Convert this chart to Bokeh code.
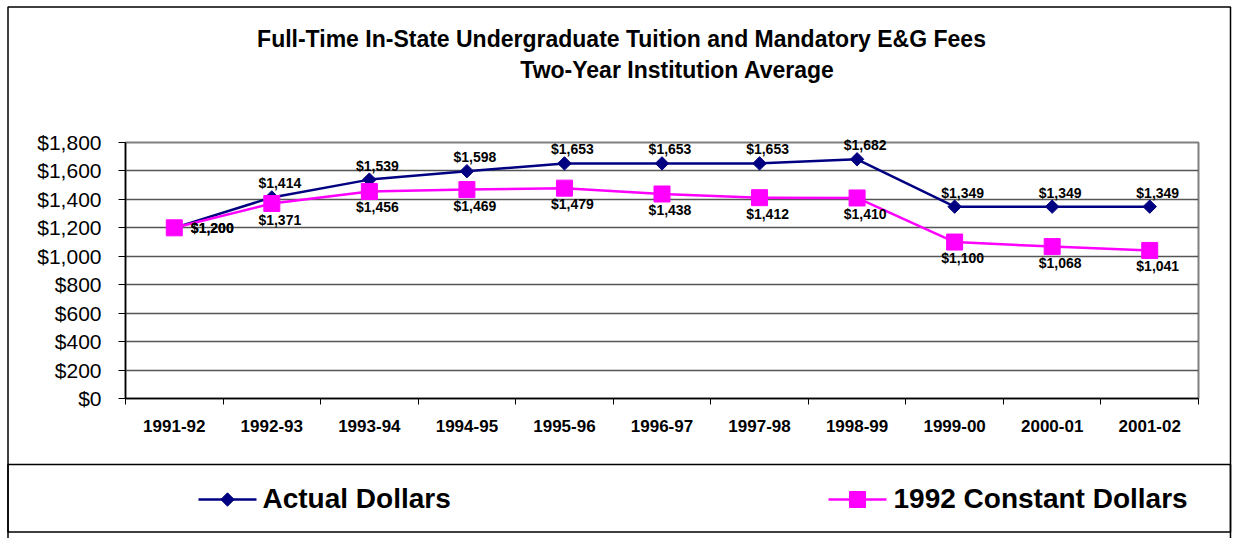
import math
from bokeh.plotting import figure
from bokeh.models import (FixedTicker, NumeralTickFormatter, CustomJSTickFormatter,
                          Range1d, ColumnDataSource)
from bokeh.core.properties import value
from bokeh.embed import file_html
from bokeh.resources import INLINE

# ---- data ----
years = ["1991-92", "1992-93", "1993-94", "1994-95", "1995-96", "1996-97",
         "1997-98", "1998-99", "1999-00", "2000-01", "2001-02"]
actual = [1200, 1414, 1539, 1598, 1653, 1653, 1653, 1682, 1349, 1349, 1349]
constant = [1200, 1371, 1456, 1469, 1479, 1438, 1412, 1410, 1100, 1068, 1041]
y_ticks = [0, 200, 400, 600, 800, 1000, 1200, 1400, 1600, 1800]
title_1 = "Full-Time In-State Undergraduate Tuition and Mandatory E&G Fees"
title_2 = "Two-Year Institution Average"
series_names = ["Actual Dollars", "1992 Constant Dollars"]

FONT = "Liberation Sans"
NAVY = "#000080"
MAGENTA = "#FF00FF"

W, H = 1233, 538
FL, FR, FT, FB = 125, 1198, 142, 398   # plot-area frame in pixels

n = len(years)
xs = [i + 0.5 for i in range(n)]
ymax = y_ticks[-1]

p = figure(width=W, height=H, output_backend="svg", toolbar_location=None,
           x_range=Range1d(0, n), y_range=Range1d(y_ticks[0], ymax),
           min_border_left=FL, min_border_right=W - FR, min_border_top=FT, min_border_bottom=H - FB,
           background_fill_color="white", border_fill_color="white")

p.outline_line_color = "#808080"
p.outline_line_width = 2


def px2x(px):
    return (px - FL) / (FR - FL) * n


def py2y(py):
    return (FB - py) / (FB - FT) * ymax


# x axis
xa = p.xaxis[0]
xa.ticker = FixedTicker(ticks=xs, minor_ticks=list(range(n + 1)))
xa.formatter = CustomJSTickFormatter(args=dict(labels=years),
                                     code="return labels[Math.round(tick - 0.5)]")
xa.major_tick_in = 0
xa.major_tick_out = 0
xa.major_tick_line_color = None
xa.minor_tick_in = 0
xa.minor_tick_out = 6
xa.minor_tick_line_color = "black"
xa.minor_tick_line_width = 1
xa.axis_line_color = "black"
xa.axis_line_width = 1.5
xa.major_label_text_font = FONT
xa.major_label_text_font_style = "bold"
xa.major_label_text_font_size = "17px"
xa.major_label_text_color = "black"
xa.major_label_standoff = 15

# y axis
ya = p.yaxis[0]
ya.ticker = FixedTicker(ticks=y_ticks, minor_ticks=[])
ya.formatter = NumeralTickFormatter(format="$0,0")
ya.major_tick_in = 0
ya.major_tick_out = 7
ya.major_tick_line_color = "black"
ya.minor_tick_line_color = None
ya.axis_line_color = "black"
ya.axis_line_width = 1.5
ya.major_label_text_font = FONT
ya.major_label_text_font_size = "21px"
ya.major_label_text_color = "black"
ya.major_label_standoff = 17

p.xgrid.grid_line_color = None
p.ygrid.ticker = FixedTicker(ticks=y_ticks, minor_ticks=[])
p.ygrid.grid_line_color = "#555555"
p.ygrid.grid_line_width = 1.5

# series
p.line(xs, actual, line_color=NAVY, line_width=2.5)
p.scatter(xs, actual, marker="square", angle=math.pi / 4, size=9.5,
          fill_color=NAVY, line_color=NAVY)
p.line(xs, constant, line_color=MAGENTA, line_width=2.5)
p.scatter(xs, constant, marker="square", size=16, fill_color=MAGENTA, line_color=MAGENTA)


# data labels
def fmt(v):
    return "${:,}".format(v)


a_dx = [38] + [8] * (n - 1)
a_dy = [0] + [-14] * (n - 1)
c_dx = [38] + [8] * (n - 1)
c_dy = [0] + [16] * (n - 1)

for vals, ddx, ddy in ((actual, a_dx, a_dy), (constant, c_dx, c_dy)):
    src = ColumnDataSource(dict(x=xs, y=vals, t=[fmt(v) for v in vals], dx=ddx, dy=ddy))
    r = p.text(x="x", y="y", text="t", x_offset="dx", y_offset="dy", source=src,
               text_font=value(FONT), text_font_style="bold", text_font_size="14px",
               text_color="black", text_align="center", text_baseline="middle")
    r.level = "overlay"


def ptext(px, py, txt, size, align="center"):
    r = p.text(x=[px2x(px)], y=[py2y(py)], text=[txt],
               text_font=value(FONT), text_font_style="bold", text_font_size=size,
               text_color="black", text_align=align, text_baseline="alphabetic")
    r.level = "overlay"


# title
ptext(621, 38, title_1, "23px")
ptext(677, 69, title_2, "23px")

# outer border and legend box
for top, bottom in ((6.5, 560), (464, 531.5)):
    r = p.quad(left=[px2x(7.5)], right=[px2x(1230)], top=[py2y(top)], bottom=[py2y(bottom)],
               fill_color=None, line_color="black", line_width=1.5)
    r.level = "overlay"


def ppatch(pts, color):
    r = p.patch(x=[px2x(a) for a, b in pts], y=[py2y(b) for a, b in pts],
                fill_color=color, line_color=color, line_width=1)
    r.level = "overlay"


# legend
ly = 499
for (x0, x1, xm, tx), color, half, diamond, name in (
        ((198, 256, 227, 262), NAVY, 6.7, True, series_names[0]),
        ((828, 886, 857, 893), MAGENTA, 8, False, series_names[1])):
    r = p.line(x=[px2x(x0), px2x(x1)], y=[py2y(ly), py2y(ly)], line_color=color, line_width=2.5)
    r.level = "overlay"
    if diamond:
        pts = [(xm - half, ly), (xm, ly - half), (xm + half, ly), (xm, ly + half)]
    else:
        pts = [(xm - half, ly - half), (xm + half, ly - half), (xm + half, ly + half), (xm - half, ly + half)]
    ppatch(pts, color)
    ptext(tx, ly - 1, name, "28px", align="left")

open("out.html", "w").write(file_html(p, INLINE))
